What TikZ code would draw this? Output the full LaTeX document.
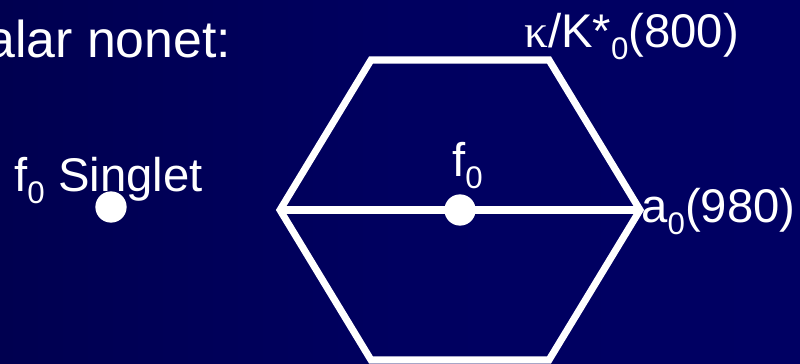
\documentclass[tikz,border=0pt]{standalone}
\usepackage{fontspec}
\setmainfont{Liberation Sans}
\newfontfamily\greekserif{Liberation Serif}
\definecolor{bgA}{RGB}{0,0,52}
\definecolor{bgB}{RGB}{0,0,80}
\definecolor{bgC}{RGB}{0,0,96}
\definecolor{bgD}{RGB}{0,0,102}
\pgfdeclarehorizontalshading{bgshade}{100bp}{color(0bp)=(bgA); color(25bp)=(bgB); color(50bp)=(bgC); color(100bp)=(bgD)}
\newcommand\subz[1]{\raisebox{-6.4pt}{\fontsize{17.8}{18}\selectfont #1}}
\begin{document}
\begin{tikzpicture}[x=0.02cm,y=-0.02cm,
  lbl/.style={text=white,inner sep=0pt,anchor=base west,font=\fontsize{26.9}{30}\selectfont},
  ttl/.style={text=white,inner sep=0pt,anchor=base west,font=\fontsize{29.5}{34}\selectfont},
  edge/.style={draw=white,line width=4pt,line join=miter},
  dot/.style={circle,fill=white,inner sep=0pt,minimum size=17.8pt}]
\path[shading=bgshade] (0,0) rectangle (800,364);
\useasboundingbox (0,0) rectangle (800,364);
% hexagon vertices
\coordinate (A) at (371,60);
\coordinate (B) at (549,60);
\coordinate (C) at (640,210);
\coordinate (D) at (549,360);
\coordinate (E) at (371,360);
\coordinate (F) at (280,210);
\draw[edge] (A) -- (B) -- (C) -- (D) -- (E) -- (F) -- cycle;
\draw[edge] (F) -- (C);
\node[dot] (f0dot) at (460,210) {};
\node[dot] (sdot) at (111,207) {};
% labels
\node[ttl] (title) at (-14,58) {alar nonet:};
\node[lbl] (single) at (14,192) {f\subz{0} Singlet};
\node[lbl] (f0lbl) at (452,177) {f\subz{0}};
\node[lbl] (kappa) at (524,48) {{\greekserif κ}/K*\subz{0}(800)};
\node[lbl] (a0) at (641,223) {a\subz{0}(980)};
\end{tikzpicture}
\end{document}
